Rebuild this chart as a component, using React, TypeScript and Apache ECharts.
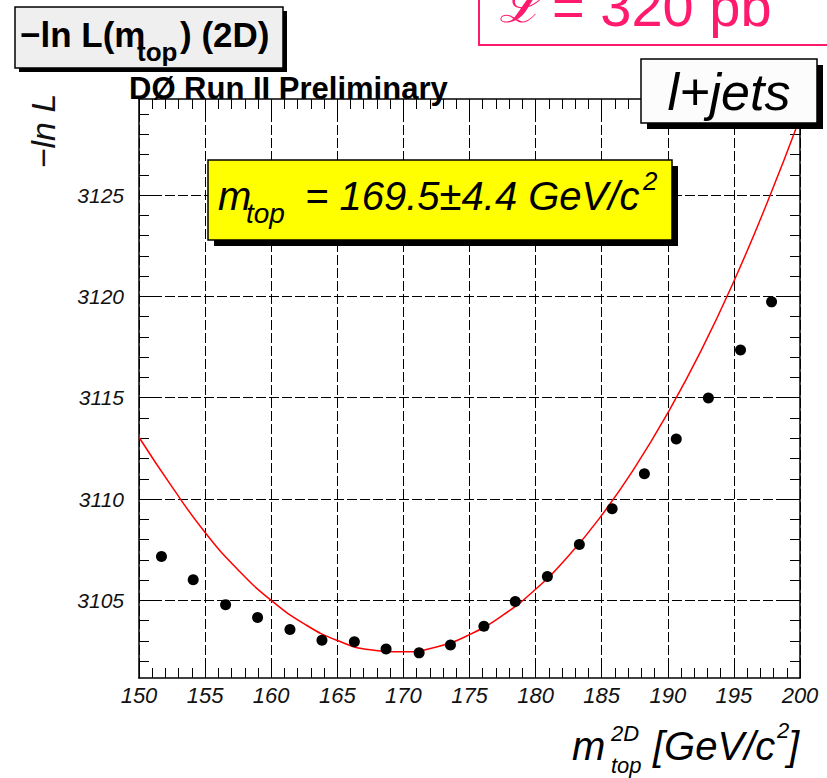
import React, { useEffect, useRef } from "react";
import * as echarts from "echarts";

// Measured points: top mass (GeV/c^2) and -ln L
const massPoints = [151.7, 154.1, 156.55, 158.97, 161.42, 163.84, 166.29, 168.69, 171.19, 173.56, 176.09, 178.46, 180.89, 183.31, 185.79, 188.23, 190.64, 193.07, 195.5, 197.85];
const nllPoints = [3107.17, 3106.02, 3104.79, 3104.16, 3103.56, 3103.03, 3102.96, 3102.6, 3102.41, 3102.8, 3103.72, 3104.94, 3106.18, 3107.76, 3109.52, 3111.25, 3112.96, 3114.99, 3117.36, 3119.73];

// Fitted curve
const fitMass = [150, 152.5, 155, 157.5, 160, 162.5, 165, 167.5, 170, 172.5, 175, 177.5, 180, 182.5, 185, 187.5, 190, 192.5, 195, 197.5, 200];
const fitNll = [3113.05, 3110.6, 3108.35, 3106.5, 3105.0, 3103.84, 3103.02, 3102.56, 3102.46, 3102.7, 3103.31, 3104.26, 3105.55, 3107.2, 3109.2, 3111.55, 3114.25, 3117.3, 3120.75, 3124.6, 3128.8];

// Axis ranges and ticks
const xMin = 150;
const xMax = 200;
const xStep = 5;
const yMin = 3101.17;
const yMax = 3129.74;
const yMajorTicks = [3105, 3110, 3115, 3120, 3125];
const yMinorTicks: number[] = [];
for (let v = 3102; v <= 3129; v++) yMinorTicks.push(v);

const FF = '"Liberation Sans", Arial, sans-serif';

function txt(text: string, x: number, baseline: number, size: number, opts: any = {}) {
  const style = opts.italic ? "italic" : "normal";
  const weight = opts.bold ? "bold" : "normal";
  const family = opts.family || FF;
  return {
    type: "text",
    x,
    y: baseline - 0.35 * size,
    z: 30,
    silent: true,
    style: {
      text,
      fill: opts.color || "#000",
      font: `${style} ${weight} ${size}px ${family}`,
      align: opts.align || "left",
      verticalAlign: "middle",
    },
  };
}

function rect(x: number, y: number, w: number, h: number, style: any, z = 25) {
  return { type: "rect", z, silent: true, shape: { x, y, width: w, height: h }, style };
}

export default function App() {
  const ref = useRef<HTMLDivElement>(null);
  useEffect(() => {
    if (!ref.current) return;
    const chart = echarts.init(ref.current, undefined, { renderer: "svg" });
    const axisLineStyle = { color: "#000", width: 1.5 };
    const tickStyle = { color: "#000", width: 1 };
    const gridLine = { show: true, lineStyle: { color: "#000", width: 1, type: [10, 3] } };
    const labelStyle = { fontSize: 22, fontStyle: "italic", color: "#111", fontFamily: FF };

    const xCommon = {
      type: "value",
      min: xMin,
      max: xMax,
      interval: xStep,
      axisLine: { show: true, onZero: false, lineStyle: axisLineStyle },
      axisTick: { show: true, inside: true, length: 20, lineStyle: tickStyle },
      minorTick: { show: true, splitNumber: 5, length: 10, lineStyle: tickStyle },
    };
    const yCommon = {
      type: "value",
      min: yMin,
      max: yMax,
      axisLine: { show: true, onZero: false, lineStyle: axisLineStyle },
    };

    const graphics: any[] = [
      // top-right luminosity box (partly off the page)
      rect(479, -10, 420, 55, { fill: "none", stroke: "#ff1a6e", lineWidth: 2 }),
      txt("ℒ", 499, 22, 52, { italic: true, color: "#ff1a6e", family: '"DejaVu Serif", serif' }),
      txt("= 320 pb", 552, 26, 56, { color: "#ff1a6e" }),
      txt("−1", 802, -6, 34, { color: "#ff1a6e" }),
      // title box
      rect(19, 11, 268, 61, { fill: "#000" }),
      rect(15, 7, 268, 61, { fill: "#efefef", stroke: "#000", lineWidth: 1.5 }),
      txt("−ln L(m", 20, 47, 35, { bold: true }),
      txt("top", 137, 61, 26, { bold: true }),
      txt(") (2D)", 180, 47, 35, { bold: true }),
      // experiment label
      txt("DØ Run II Preliminary", 129, 99, 31, { bold: true }),
      // l+jets box
      rect(647, 65, 176, 64, { fill: "#000" }),
      rect(641, 59, 176, 64, { fill: "#fcfcfc", stroke: "#000", lineWidth: 1.5 }),
      txt("l+jets", 729, 110, 52, { italic: true, align: "center" }),
      // yellow result box
      rect(214, 166, 464, 80, { fill: "#000" }),
      rect(208, 160, 464, 80, { fill: "#ffff00", stroke: "#000", lineWidth: 1.5 }),
      txt("m", 218, 210, 40, { italic: true }),
      txt("top", 246, 223, 28, { italic: true }),
      txt("= 169.5±4.4 GeV/c", 305, 210, 40, { italic: true }),
      txt("2", 643, 190, 26, { italic: true }),
      // y axis title
      {
        type: "text",
        x: 43,
        y: 131,
        rotation: Math.PI / 2,
        z: 30,
        silent: true,
        style: { text: "−ln L", fill: "#111", font: `italic normal 34px ${FF}`, align: "center", verticalAlign: "middle" },
      },
      // x axis title
      txt("m", 572, 760, 40, { italic: true }),
      txt("2D", 611, 741, 22, { italic: true }),
      txt("top", 611, 773, 22, { italic: true }),
      txt("[GeV/c", 653, 760, 40, { italic: true }),
      txt("2", 777, 738, 22, { italic: true }),
      txt("]", 788, 760, 40, { italic: true }),
    ];

    chart.setOption({
      animation: false,
      backgroundColor: "#fff",
      grid: { left: 139, right: 27, top: 99, bottom: 100, containLabel: false, outerBoundsMode: "none" },
      xAxis: [
        {
          ...xCommon,
          position: "bottom",
          axisLabel: { ...labelStyle, margin: 6 },
          splitLine: gridLine,
        },
        {
          ...xCommon,
          position: "top",
          axisLabel: { show: false },
          splitLine: { show: false },
        },
      ],
      yAxis: [
        {
          ...yCommon,
          position: "left",
          axisTick: { show: true, inside: true, length: 20, lineStyle: tickStyle, customValues: yMajorTicks },
          axisLabel: { ...labelStyle, fontSize: 21, margin: 15, customValues: yMajorTicks, formatter: (v: number) => String(v) },
          splitLine: gridLine,
        },
        {
          ...yCommon,
          position: "left",
          axisLine: { show: false },
          axisTick: { show: true, inside: true, length: 10, lineStyle: tickStyle, customValues: yMinorTicks },
          axisLabel: { show: false },
          splitLine: { show: false },
        },
        {
          ...yCommon,
          position: "right",
          axisTick: { show: true, inside: true, length: 20, lineStyle: tickStyle, customValues: yMajorTicks },
          axisLabel: { show: false },
          splitLine: { show: false },
        },
        {
          ...yCommon,
          position: "right",
          axisLine: { show: false },
          axisTick: { show: true, inside: true, length: 10, lineStyle: tickStyle, customValues: yMinorTicks },
          axisLabel: { show: false },
          splitLine: { show: false },
        },
      ],
      series: [
        {
          type: "line",
          xAxisIndex: 0,
          yAxisIndex: 0,
          data: fitMass.map((m, i) => [m, fitNll[i]]),
          smooth: true,
          showSymbol: false,
          symbol: "none",
          lineStyle: { color: "#ff0000", width: 1.5 },
          z: 3,
        },
        {
          type: "scatter",
          xAxisIndex: 0,
          yAxisIndex: 0,
          data: massPoints.map((m, i) => [m, nllPoints[i]]),
          symbol: "circle",
          symbolSize: 11,
          itemStyle: { color: "#000", opacity: 1 },
          z: 4,
        },
      ],
      graphic: graphics,
    });
    return () => chart.dispose();
  }, []);
  return <div ref={ref} style={{ position: "absolute", left: 0, top: 0, width: 827, height: 778, background: "#fff" }} />;
}
